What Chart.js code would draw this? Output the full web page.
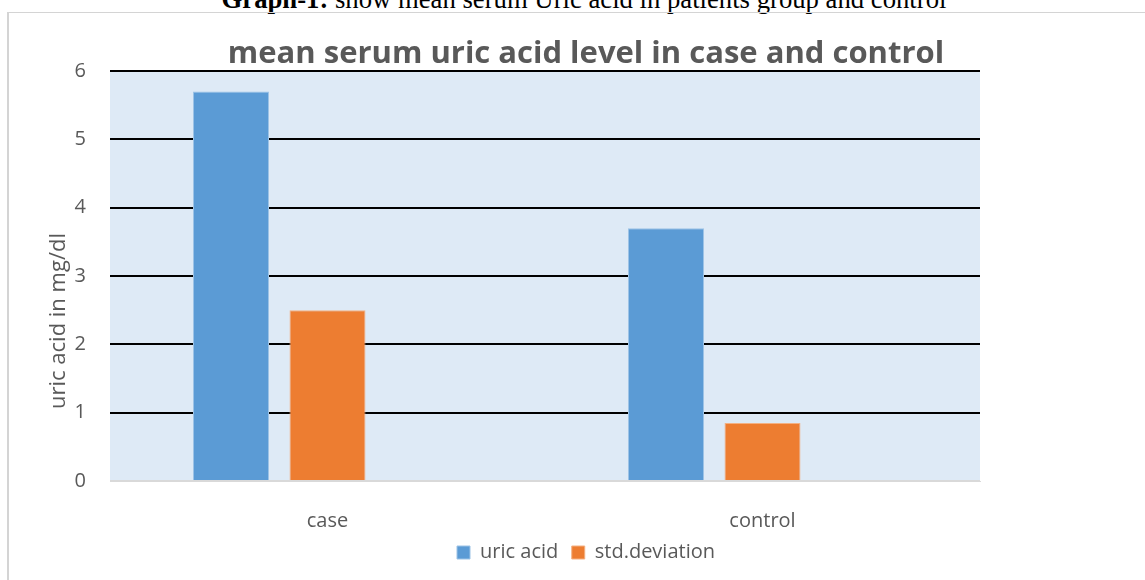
<!DOCTYPE html>
<html>
<head>
<meta charset="utf-8">
<script src="https://cdn.jsdelivr.net/npm/chart.js@4.4.1/dist/chart.umd.min.js"></script>
<style>
  html, body { margin: 0; padding: 0; background: #ffffff; }
  #page { position: relative; width: 1145px; height: 580px; overflow: hidden; background: #ffffff; }
  #header { position: absolute; left: 0; width: 1168px; top: -14px; text-align: center;
            font-family: "Liberation Serif", "Times New Roman", serif; font-size: 26.7px; line-height: 26.7px; color: #000; white-space: nowrap; }
  #frame { position: absolute; left: 7px; top: 12px; width: 1200px; height: 600px;
           border-top: 1px solid #d4d4d4; border-left: 2px solid #d4d4d4; }
  #wrap { position: absolute; left: 0; top: 0; width: 1172px; height: 580px; }
</style>
</head>
<body>
<div id="page">
  <div id="header"><b>Graph-1:</b> show mean serum Uric acid in patients group and control</div>
  <div id="frame"></div>
  <div id="wrap"><canvas id="c" width="1172" height="580"></canvas></div>
</div>
<script>
// ---- data ----
const categories = ["case", "control"];
const uricAcid = [5.7, 3.7];
const stdDeviation = [2.5, 0.85];
const emptySeries = [null, null];
const seriesNames = ["uric acid", "std.deviation"];
const yTicks = [0, 1, 2, 3, 4, 5, 6];
const chartTitle = "mean serum uric acid level in case and control";
const yAxisTitle = "uric acid in mg/dl";

const GREY_TEXT = "#595959";
const FONT = "'Open Sans', 'Liberation Sans', sans-serif";

const plotBg = {
  id: "plotBg",
  beforeDraw(chart) {
    const a = chart.chartArea, ctx = chart.ctx;
    ctx.save();
    ctx.fillStyle = "#DEEAF6";
    ctx.fillRect(a.left, a.top, a.right - a.left, a.bottom - a.top);
    ctx.restore();
  }
};

const yTitlePlugin = {
  id: "yTitlePlugin",
  afterDraw(chart) {
    const ctx = chart.ctx;
    ctx.save();
    ctx.translate(59, 321);
    ctx.rotate(-Math.PI / 2);
    ctx.font = "22px " + FONT;
    ctx.fillStyle = GREY_TEXT;
    ctx.textAlign = "center";
    ctx.textBaseline = "middle";
    ctx.fillText(yAxisTitle, 0, 0);
    ctx.restore();
  }
};

new Chart(document.getElementById("c"), {
  type: "bar",
  data: {
    labels: categories,
    datasets: [
      { label: seriesNames[0], data: uricAcid, backgroundColor: "#5B9BD5", borderColor: "#9DC3E6", borderWidth: 1 },
      { label: seriesNames[1], data: stdDeviation, backgroundColor: "#ED7D31", borderColor: "#F4B183", borderWidth: 1 },
      { label: "", data: emptySeries, backgroundColor: "rgba(0,0,0,0)" }
    ]
  },
  options: {
    responsive: false,
    devicePixelRatio: 1,
    animation: false,
    layout: { padding: { left: 0, right: 0, top: 0, bottom: 7.5 } },
    datasets: { bar: { categoryPercentage: 0.6655, barPercentage: 0.7876 } },
    plugins: {
      title: {
        display: true,
        text: chartTitle,
        color: GREY_TEXT,
        font: { family: FONT, size: 31, weight: "bold", lineHeight: 1.0 },
        padding: { top: 38.2, bottom: 1.8 }
      },
      legend: {
        position: "bottom",
        labels: {
          filter: (item) => item.datasetIndex < 2,
          boxWidth: 13, boxHeight: 13,
          padding: 13.5,
          color: GREY_TEXT,
          font: { family: FONT, size: 20 }
        }
      },
      tooltip: { enabled: false }
    },
    scales: {
      x: {
        grid: { display: false, drawTicks: false },
        border: { display: true, color: "#D9D9D9", width: 1 },
        ticks: { color: GREY_TEXT, font: { family: FONT, size: 20 }, padding: 28 },
        afterFit(s) { s.height = 48; }
      },
      y: {
        min: 0, max: 6,
        afterBuildTicks(s) { s.ticks = yTicks.map(v => ({ value: v })); },
        grid: {
          drawTicks: false,
          color: (c) => (c.tick && c.tick.value === 0) ? "#D9D9D9" : "#000000",
          lineWidth: 2
        },
        border: { display: false },
        ticks: { color: GREY_TEXT, font: { family: FONT, size: 20 }, padding: 24 },
        afterFit(s) { s.width = 110; }
      },
      y2: {
        position: "right",
        display: true,
        grid: { display: false, drawTicks: false },
        border: { display: false },
        ticks: { display: false },
        afterFit(s) { s.width = 192; }
      }
    }
  },
  plugins: [plotBg, yTitlePlugin]
});
</script>
</body>
</html>
